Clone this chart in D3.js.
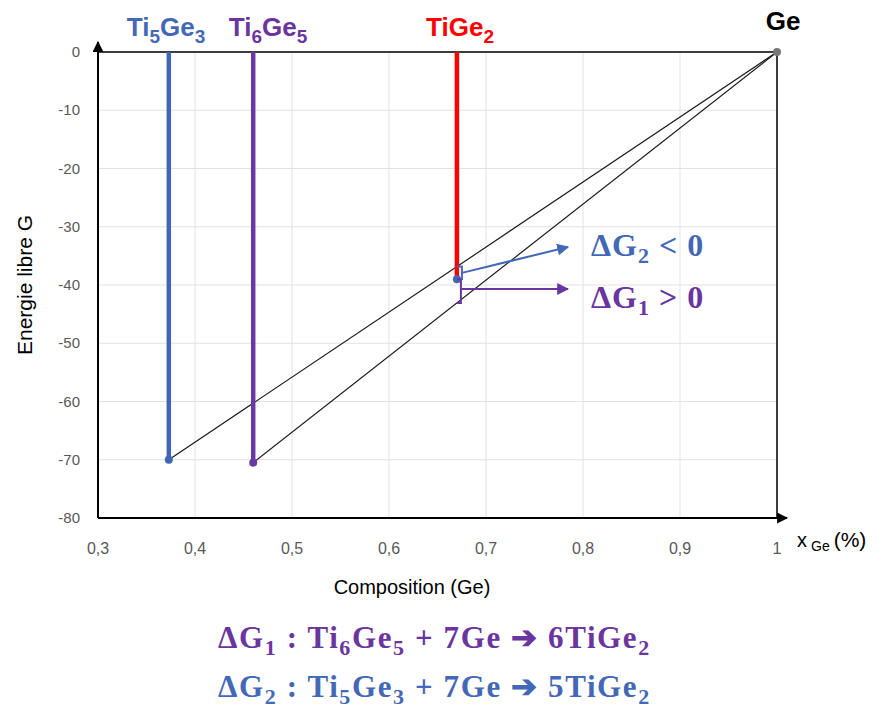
<!DOCTYPE html>
<html>
<head>
<meta charset="utf-8">
<script src="https://cdn.jsdelivr.net/npm/d3@7"></script>
<style>
  body { margin: 0; background: #fff; }
</style>
</head>
<body>
<div id="container"></div>
<script>
let w = 885;
let h = 714;

// data
let xTicks = [0.3, 0.4, 0.5, 0.6, 0.7, 0.8, 0.9, 1];
let yTicks = [0, -10, -20, -30, -40, -50, -60, -70, -80];
let phaseNames = ["Ti5Ge3", "Ti6Ge5", "TiGe2", "Ge"];
let phaseX = [0.373, 0.46, 0.67, 1];
let phaseG = [-70, -70.5, -39, 0];
let phaseColors = ["#4166b4", "#6a3aa3", "#ff0000", "#777777"];

let blue = "#4468b8";
let purple = "#6b35a0";

let x = d3.scaleLinear().domain([0.3, 1]).range([98, 777]);
let y = d3.scaleLinear().domain([-80, 0]).range([518, 52]);

let viz = d3.select("#container")
  .append("svg")
    .attr("width", w)
    .attr("height", h)
    .style("background-color", "#fff")
;

let defs = viz.append("defs");
function marker(id, color, size){
  defs.append("marker")
      .attr("id", id)
      .attr("viewBox", "0 0 10 10")
      .attr("refX", 9).attr("refY", 5)
      .attr("markerWidth", size).attr("markerHeight", size)
      .attr("markerUnits", "userSpaceOnUse")
      .attr("orient", "auto")
    .append("path")
      .attr("d", "M0,0 L10,5 L0,10 z")
      .attr("fill", color);
}
marker("arrBlack", "#000", 11);
marker("arrBlue", blue, 12);
marker("arrPurple", purple, 12);

// grid
viz.append("g").selectAll("line").data(xTicks).enter()
  .append("line")
    .attr("x1", d => x(d)).attr("x2", d => x(d))
    .attr("y1", y(0)).attr("y2", y(-80))
    .attr("stroke", "#e2e2e2").attr("stroke-width", 1)
;
viz.append("g").selectAll("line").data(yTicks).enter()
  .append("line")
    .attr("x1", x(0.3)).attr("x2", x(1))
    .attr("y1", d => y(d)).attr("y2", d => y(d))
    .attr("stroke", "#e2e2e2").attr("stroke-width", 1)
;

// frame
viz.append("line")
    .attr("x1", x(0.3)).attr("x2", x(1))
    .attr("y1", y(0)).attr("y2", y(0))
    .attr("stroke", "#000").attr("stroke-width", 1.5);
viz.append("line")
    .attr("x1", x(1)).attr("x2", x(1))
    .attr("y1", y(0)).attr("y2", y(-80))
    .attr("stroke", "#000").attr("stroke-width", 1.5);
viz.append("line")
    .attr("x1", x(0.3)).attr("x2", x(0.3))
    .attr("y1", y(-80)).attr("y2", y(0) - 10)
    .attr("stroke", "#000").attr("stroke-width", 2)
    .attr("marker-end", "url(#arrBlack)");
viz.append("line")
    .attr("x1", x(0.3)).attr("x2", x(1) + 10)
    .attr("y1", y(-80)).attr("y2", y(-80))
    .attr("stroke", "#000").attr("stroke-width", 2)
    .attr("marker-end", "url(#arrBlack)");

// tick labels
viz.append("g").selectAll("text").data(xTicks).enter()
  .append("text")
    .attr("x", d => x(d)).attr("y", 554)
    .attr("text-anchor", "middle")
    .attr("font-family", "Liberation Sans, Arial, sans-serif")
    .attr("font-size", 16).attr("fill", "#595959")
    .text(d => String(d).replace(".", ","))
;
viz.append("g").selectAll("text").data(yTicks).enter()
  .append("text")
    .attr("x", 80).attr("y", d => y(d) + 5)
    .attr("text-anchor", "end")
    .attr("font-family", "Liberation Sans, Arial, sans-serif")
    .attr("font-size", 15).attr("fill", "#595959")
    .text(d => d)
;

// axis titles
viz.append("text")
    .attr("transform", "translate(32," + ((y(0) + y(-80)) / 2) + ") rotate(-90)")
    .attr("text-anchor", "middle")
    .attr("font-family", "Liberation Sans, Arial, sans-serif")
    .attr("font-size", 21).attr("fill", "#000")
    .text("Energie libre G");
viz.append("text")
    .attr("x", 412).attr("y", 594)
    .attr("text-anchor", "middle")
    .attr("font-family", "Liberation Sans, Arial, sans-serif")
    .attr("font-size", 20).attr("fill", "#000")
    .text("Composition (Ge)");
let xl = viz.append("text")
    .attr("x", 797).attr("y", 547)
    .attr("font-family", "Liberation Sans, Arial, sans-serif")
    .attr("fill", "#000");
xl.append("tspan").attr("font-size", 20).text("x");
xl.append("tspan").attr("font-size", 14).attr("dx", 4).attr("dy", 4).text("Ge");
xl.append("tspan").attr("font-size", 21).attr("dx", 4).attr("dy", -4).text("(%)");

// tie lines to Ge
let tie = [0, 1];
viz.append("g").selectAll("line").data(tie).enter()
  .append("line")
    .attr("x1", i => x(phaseX[i])).attr("y1", i => y(phaseG[i]))
    .attr("x2", x(phaseX[3])).attr("y2", y(phaseG[3]))
    .attr("stroke", "#1a1a1a").attr("stroke-width", 1.2)
;

// vertical phase lines
let verts = [0, 1, 2];
viz.append("g").selectAll("line").data(verts).enter()
  .append("line")
    .attr("x1", i => x(phaseX[i])).attr("x2", i => x(phaseX[i]))
    .attr("y1", y(0)).attr("y2", i => y(phaseG[i]))
    .attr("stroke", i => phaseColors[i]).attr("stroke-width", 4.5)
;

// points
viz.append("g").selectAll("circle").data([0, 1, 2, 3]).enter()
  .append("circle")
    .attr("cx", i => x(phaseX[i])).attr("cy", i => y(phaseG[i]))
    .attr("r", 4)
    .attr("fill", i => i == 2 ? blue : phaseColors[i])
;

// phase labels
function formula(g, parts, size, subSize){
  parts.forEach(p => {
    let t = g.append("tspan").text(p[0]);
    if (p[1]) t.attr("font-size", subSize).attr("dy", 7);
    else t.attr("font-size", size).attr("dy", p[2] ? -7 : 0);
  });
}
let labelParts = [
  [["Ti"], ["5", 1], ["Ge", 0, 1], ["3", 1]],
  [["Ti"], ["6", 1], ["Ge", 0, 1], ["5", 1]],
  [["TiGe"], ["2", 1]],
  [["Ge"]]
];
let labelX = [166, 268, 460, 783];
let labelY = [36, 36, 36, 30];
let labelColors = [blue, purple, "#ff0000", "#000"];
[0, 1, 2, 3].forEach(i => {
  let t = viz.append("text")
      .attr("x", labelX[i]).attr("y", labelY[i])
      .attr("text-anchor", "middle")
      .attr("font-family", "Liberation Sans, Arial, sans-serif")
      .attr("font-weight", "bold")
      .attr("fill", labelColors[i]);
  formula(t, labelParts[i], 26, 19);
});

// delta G annotations
let px = x(phaseX[2]);
let upperG = phaseG[0] + (phaseG[3] - phaseG[0]) * (phaseX[2] - phaseX[0]) / (phaseX[3] - phaseX[0]);
let lowerG = phaseG[1] + (phaseG[3] - phaseG[1]) * (phaseX[2] - phaseX[1]) / (phaseX[3] - phaseX[1]);
viz.append("path")
    .attr("d", "M" + px + "," + y(upperG) + " h5 V" + y(phaseG[2]) + " h-5")
    .attr("fill", "none").attr("stroke", blue).attr("stroke-width", 2);
viz.append("path")
    .attr("d", "M" + px + "," + y(phaseG[2]) + " h4 V" + y(lowerG) + " h-4")
    .attr("fill", "none").attr("stroke", purple).attr("stroke-width", 2);
viz.append("line")
    .attr("x1", px + 5).attr("y1", (y(upperG) + y(phaseG[2])) / 2)
    .attr("x2", 568).attr("y2", 247)
    .attr("stroke", blue).attr("stroke-width", 2)
    .attr("marker-end", "url(#arrBlue)");
viz.append("line")
    .attr("x1", px + 4).attr("y1", 289)
    .attr("x2", 568).attr("y2", 289)
    .attr("stroke", purple).attr("stroke-width", 2)
    .attr("marker-end", "url(#arrPurple)");

function deltaText(xp, yp, color, parts, size, subSize, spacing){
  let t = viz.append("text")
      .attr("x", xp).attr("y", yp)
      .attr("font-family", "Liberation Serif, Times New Roman, serif")
      .attr("font-weight", "bold")
      .attr("letter-spacing", spacing)
      .attr("fill", color);
  parts.forEach(p => {
    let s = t.append("tspan").text(p[0]);
    if (p[1]) s.attr("font-size", subSize).attr("dy", 7);
    else s.attr("font-size", size).attr("dy", p[2] ? -7 : 0);
  });
}
deltaText(591, 256, blue, [["ΔG"], ["2", 1], [" < 0", 0, 1]], 32, 22, 1);
deltaText(591, 308, purple, [["ΔG"], ["1", 1], [" > 0", 0, 1]], 32, 22, 1);

// reactions
deltaText(218, 648, purple,
  [["ΔG"], ["1", 1], [" :  Ti", 0, 1], ["6", 1], ["Ge", 0, 1], ["5", 1], [" + 7Ge ➔ 6TiGe", 0, 1], ["2", 1]], 31, 22, 1.6);
deltaText(218, 697, blue,
  [["ΔG"], ["2", 1], [" : Ti", 0, 1], ["5", 1], ["Ge", 0, 1], ["3", 1], [" + 7Ge ➔ 5TiGe", 0, 1], ["2", 1]], 31, 22, 1.6);
</script>
</body>
</html>
